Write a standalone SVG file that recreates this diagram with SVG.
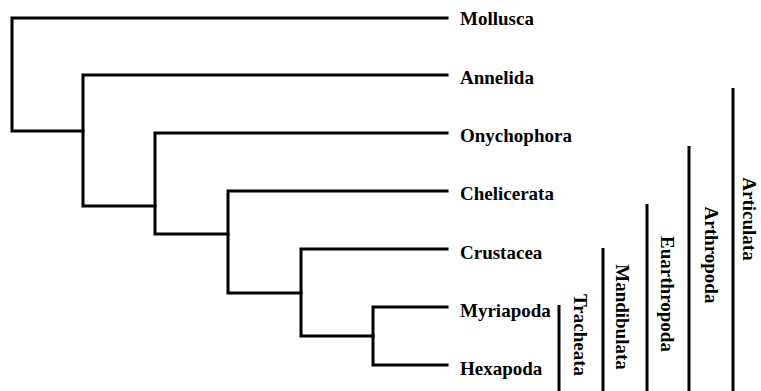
<svg xmlns="http://www.w3.org/2000/svg" width="761" height="391" viewBox="0 0 761 391">
<style>
.e{fill:none;stroke:#000;stroke-width:3;stroke-linecap:square;stroke-linejoin:miter}
.b{stroke:#000;stroke-width:3}
text{font-family:"Liberation Serif","Times New Roman",serif;font-weight:bold;font-size:19px;fill:#000}
</style>
<rect width="761" height="391" fill="#fff"/>
<g id="connectors">
<path class="e" d="M447 18H12V131H83"/>
<path class="e" d="M447 75H83V206H155"/>
<path class="e" d="M447 133H155V234H228"/>
<path class="e" d="M447 191H228V293H301"/>
<path class="e" d="M447 249H301V336H373"/>
<path class="e" d="M447 307H373V365H447"/>
</g>
<g id="Mollusca"><text x="460" y="25">Mollusca</text></g>
<g id="Annelida"><text x="460" y="84">Annelida</text></g>
<g id="Onychophora"><text x="460" y="142">Onychophora</text></g>
<g id="Chelicerata"><text x="460" y="200">Chelicerata</text></g>
<g id="Crustacea"><text x="460" y="259">Crustacea</text></g>
<g id="Myriapoda"><text x="460" y="317">Myriapoda</text></g>
<g id="Hexapoda"><text x="460" y="375">Hexapoda</text></g>
<g id="Tracheata"><line class="b" x1="559" y1="305" x2="559" y2="391"/><text transform="translate(574 335) rotate(90)" text-anchor="middle">Tracheata</text></g>
<g id="Mandibulata"><line class="b" x1="603" y1="248" x2="603" y2="391"/><text transform="translate(616 317) rotate(90)" text-anchor="middle">Mandibulata</text></g>
<g id="Euarthropoda"><line class="b" x1="647" y1="204" x2="647" y2="391"/><text transform="translate(661 294) rotate(90)" text-anchor="middle">Euarthropoda</text></g>
<g id="Arthropoda"><line class="b" x1="689" y1="146" x2="689" y2="391"/><text transform="translate(705 255) rotate(90)" text-anchor="middle">Arthropoda</text></g>
<g id="Articulata"><line class="b" x1="733" y1="88" x2="733" y2="391"/><text transform="translate(743 219) rotate(90)" text-anchor="middle">Articulata</text></g>
</svg>
